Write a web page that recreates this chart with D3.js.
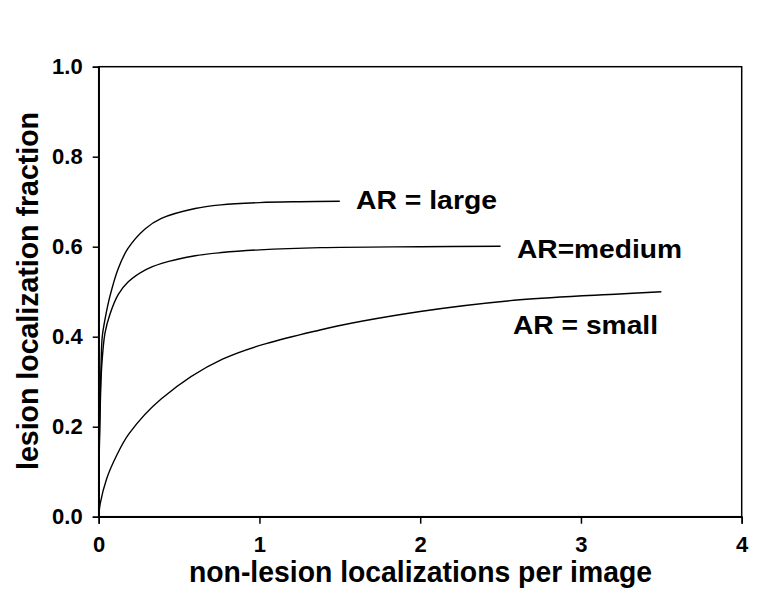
<!DOCTYPE html>
<html>
<head>
<meta charset="utf-8">
<script src="https://cdn.jsdelivr.net/npm/d3@7"></script>
<style>
  body { margin: 0; background: #fff; }
  svg text { font-family: "Liberation Sans", Arial, sans-serif; font-weight: bold; fill: #000; }
</style>
</head>
<body>
<svg id="chart" width="776" height="610"></svg>
<script>
// values
const xTicks = [0, 1, 2, 3, 4];
const yTicks = [0, 0.2, 0.4, 0.6, 0.8, 1.0];

const largeX = [0, 0.003, 0.008, 0.014, 0.022, 0.04, 0.07, 0.12, 0.18, 0.29, 0.39, 0.6, 0.76, 1.0, 1.25, 1.5];
const largeY = [0, 0.15, 0.25, 0.33, 0.4, 0.44, 0.49, 0.55, 0.595, 0.64, 0.663, 0.685, 0.693, 0.698, 0.7, 0.701];

const mediumX = [0, 0.004, 0.01, 0.018, 0.039, 0.07, 0.122, 0.184, 0.288, 0.392, 0.6, 0.765, 1.0, 1.38, 2.0, 2.5];
const mediumY = [0, 0.15, 0.25, 0.33, 0.408, 0.45, 0.494, 0.522, 0.548, 0.563, 0.58, 0.587, 0.593, 0.598, 0.6, 0.601];

const smallX = [0, 0.01, 0.05, 0.11, 0.19, 0.39, 0.77, 1.377, 2.0, 2.62, 3.24, 3.5];
const smallY = [0, 0.03, 0.085, 0.135, 0.185, 0.262, 0.35, 0.415, 0.456, 0.482, 0.495, 0.5];

const seriesNames = ["AR = large", "AR=medium", "AR = small"];

const svg = d3.select("#chart");
const margin = {top: 66.7, right: 34.3, bottom: 93.3, left: 98.7},
    width = 776 - margin.left - margin.right,
    height = 610 - margin.top - margin.bottom;

const g = svg.append("g").attr("transform", "translate(" + margin.left + "," + margin.top + ")");

const x = d3.scaleLinear().domain([0, 4]).range([0, width]);
const y = d3.scaleLinear().domain([0, 1]).range([height, 0]);

// frame
g.append("rect")
    .attr("width", width).attr("height", height)
    .attr("fill", "none").attr("stroke", "#000").attr("stroke-width", 1.5);

const xAxis = g.append("g")
    .attr("transform", "translate(0," + height + ")")
    .call(d3.axisBottom(x).tickValues(xTicks).tickFormat(d3.format("d")).tickSize(7).tickPadding(13));
const yAxis = g.append("g")
    .call(d3.axisLeft(y).tickValues(yTicks).tickFormat(d3.format(".1f")).tickSize(6).tickPadding(10));

[xAxis, yAxis].forEach(function (ax) {
    ax.attr("font-family", null);
    ax.selectAll(".tick text").style("font-size", "22px");
    ax.select(".domain").attr("stroke-width", 1.5);
    ax.selectAll(".tick line").attr("stroke-width", 1.5);
});

const line = d3.line()
    .x(function (d) { return x(d[0]); })
    .y(function (d) { return y(d[1]); })
    .curve(d3.curveCatmullRom.alpha(0.5));

const series = [
    d3.zip(largeX, largeY),
    d3.zip(mediumX, mediumY),
    d3.zip(smallX, smallY)
];

series.forEach(function (s) {
    g.append("path")
        .datum(s)
        .attr("fill", "none")
        .attr("stroke", "#000")
        .attr("stroke-width", 1.4)
        .attr("d", line);
});

// curve labels
const labelPos = [
    {x: 356, y: 209, w: 141},
    {x: 517, y: 258, w: 165},
    {x: 513, y: 334, w: 145}
];
seriesNames.forEach(function (name, i) {
    svg.append("text")
        .attr("x", labelPos[i].x).attr("y", labelPos[i].y)
        .attr("font-size", 26)
        .attr("textLength", labelPos[i].w)
        .attr("lengthAdjust", "spacingAndGlyphs")
        .text(name);
});

// axis titles
svg.append("text")
    .attr("x", 189).attr("y", 582)
    .attr("font-size", 29)
    .attr("textLength", 463)
    .attr("lengthAdjust", "spacingAndGlyphs")
    .text("non-lesion localizations per image");

svg.append("text")
    .attr("transform", "translate(38,470) rotate(-90)")
    .attr("font-size", 29)
    .attr("textLength", 358)
    .attr("lengthAdjust", "spacingAndGlyphs")
    .text("lesion localization fraction");
</script>
</body>
</html>
